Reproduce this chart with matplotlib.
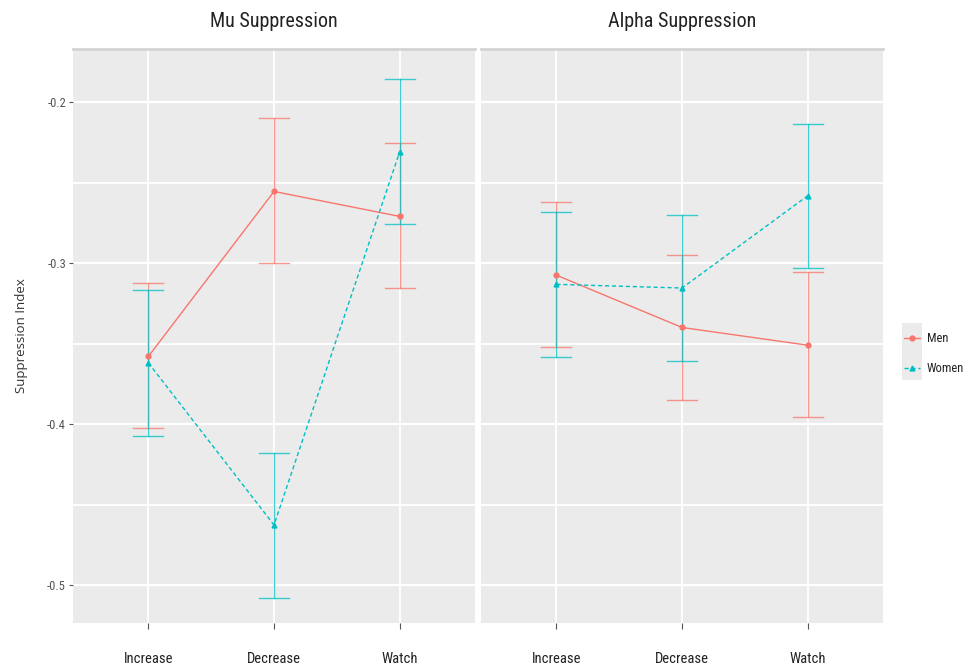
import matplotlib
matplotlib.use("Agg")
import matplotlib.pyplot as plt
from matplotlib.lines import Line2D
from matplotlib.patches import Rectangle
from matplotlib import font_manager as fm

names = {f.name for f in fm.fontManager.ttflist}
narrow = "DejaVu Sans"
for cand in ["Liberation Sans Narrow", "Arial Narrow", "Roboto Condensed", "Archivo Narrow"]:
    if cand in names:
        narrow = cand
        break

conditions = ["Increase", "Decrease", "Watch"]
groups = ["Men", "Women"]
panels = ["Mu Suppression", "Alpha Suppression"]

mu_men_mean = [-0.358, -0.2555, -0.271]
mu_men_low = [-0.4027, -0.3002, -0.3155]
mu_men_high = [-0.3126, -0.2101, -0.2257]
mu_women_mean = [-0.362, -0.4627, -0.231]
mu_women_low = [-0.4073, -0.5079, -0.2758]
mu_women_high = [-0.3168, -0.4182, -0.1859]

alpha_men_mean = [-0.3075, -0.340, -0.351]
alpha_men_low = [-0.352, -0.385, -0.3958]
alpha_men_high = [-0.2621, -0.295, -0.3054]
alpha_women_mean = [-0.3132, -0.3155, -0.2582]
alpha_women_low = [-0.3582, -0.3607, -0.3031]
alpha_women_high = [-0.2683, -0.2704, -0.2133]

yticks = [-0.5, -0.4, -0.3, -0.2]
ytick_labels = ["-0.5", "-0.4", "-0.3", "-0.2"]

colors = {"Men": "#F8766D", "Women": "#00BFC4"}
markers = {"Men": "o", "Women": "^"}
styles = {"Men": "-", "Women": (0, (3, 2))}

data = {
    "Mu Suppression": {
        "Men": (mu_men_mean, mu_men_low, mu_men_high),
        "Women": (mu_women_mean, mu_women_low, mu_women_high),
    },
    "Alpha Suppression": {
        "Men": (alpha_men_mean, alpha_men_low, alpha_men_high),
        "Women": (alpha_women_mean, alpha_women_low, alpha_women_high),
    },
}

fig = plt.figure(figsize=(9.63, 6.66), dpi=100)
W, H = 963, 666
top, bottom = 49, 623
lefts = [73, 481]
pw = 402
xs = [1, 2, 3]

for i, (panel, left) in enumerate(zip(panels, lefts)):
    ax = fig.add_axes([left / W, 1 - bottom / H, pw / W, (bottom - top) / H])
    ax.set_facecolor("#EBEBEB")
    for s in ax.spines.values():
        s.set_visible(False)
    ax.set_xlim(0.4, 3.6)
    ax.set_ylim(-0.5236, -0.167)
    for y in [-0.45, -0.35, -0.25]:
        ax.axhline(y, color="white", lw=1.3, zorder=0.5)
    for y in yticks:
        ax.axhline(y, color="white", lw=1.6, zorder=0.5)
    for x in xs:
        ax.axvline(x, color="white", lw=1.3, zorder=0.5)
    for g in groups:
        mean, low, high = data[panel][g]
        c = colors[g]
        for x, lo, hi in zip(xs, low, high):
            ax.plot([x, x], [lo, hi], color=c, lw=1.0, alpha=0.75, zorder=2)
            ax.plot([x - 0.12, x + 0.12], [lo, lo], color=c, lw=1.0, alpha=0.75, zorder=2)
            ax.plot([x - 0.12, x + 0.12], [hi, hi], color=c, lw=1.0, alpha=0.75, zorder=2)
        ax.plot(xs, mean, color=c, ls=styles[g], lw=1.0, marker=markers[g],
                markersize=3.5, zorder=3)
    ax.set_xticks(xs)
    ax.set_xticklabels(conditions, fontsize=10.5, family=narrow, color="#222222")
    ax.tick_params(axis="x", length=4, color="#555555", pad=17)
    ax.set_yticks(yticks)
    if i == 0:
        ax.set_yticklabels(ytick_labels, fontsize=9, family=narrow, color="#555555")
        ax.tick_params(axis="y", length=3, color="#555555", pad=2)
        ax.set_ylabel("Suppression Index", fontsize=9.5, family="Open Sans",
                      color="#333333", labelpad=14)
    else:
        ax.tick_params(axis="y", length=0, labelleft=False)
    ax.set_title(panel, fontsize=14.5, family=narrow, color="#222222", pad=16)
    ax.axhline(-0.167, color="#d4d4d4", lw=2.0, zorder=1, clip_on=False)

# legend
lx0 = 902 / W
fig.patches.append(Rectangle((lx0, 1 - 380 / H), 20 / W, 57 / H, transform=fig.transFigure,
                             facecolor="#EBEBEB", edgecolor="none"))
for g, yp in zip(groups, [338, 368]):
    yf = 1 - yp / H
    fig.add_artist(Line2D([904 / W, 920 / W], [yf, yf], color=colors[g], ls=styles[g],
                          lw=1.0, transform=fig.transFigure))
    fig.add_artist(Line2D([912 / W], [yf], color=colors[g], marker=markers[g],
                          markersize=3.5, ls="none", transform=fig.transFigure))
    fig.text(927 / W, yf, g, fontsize=9, family=narrow, color="#222222", va="center")

fig.savefig("out.png", dpi=100)
